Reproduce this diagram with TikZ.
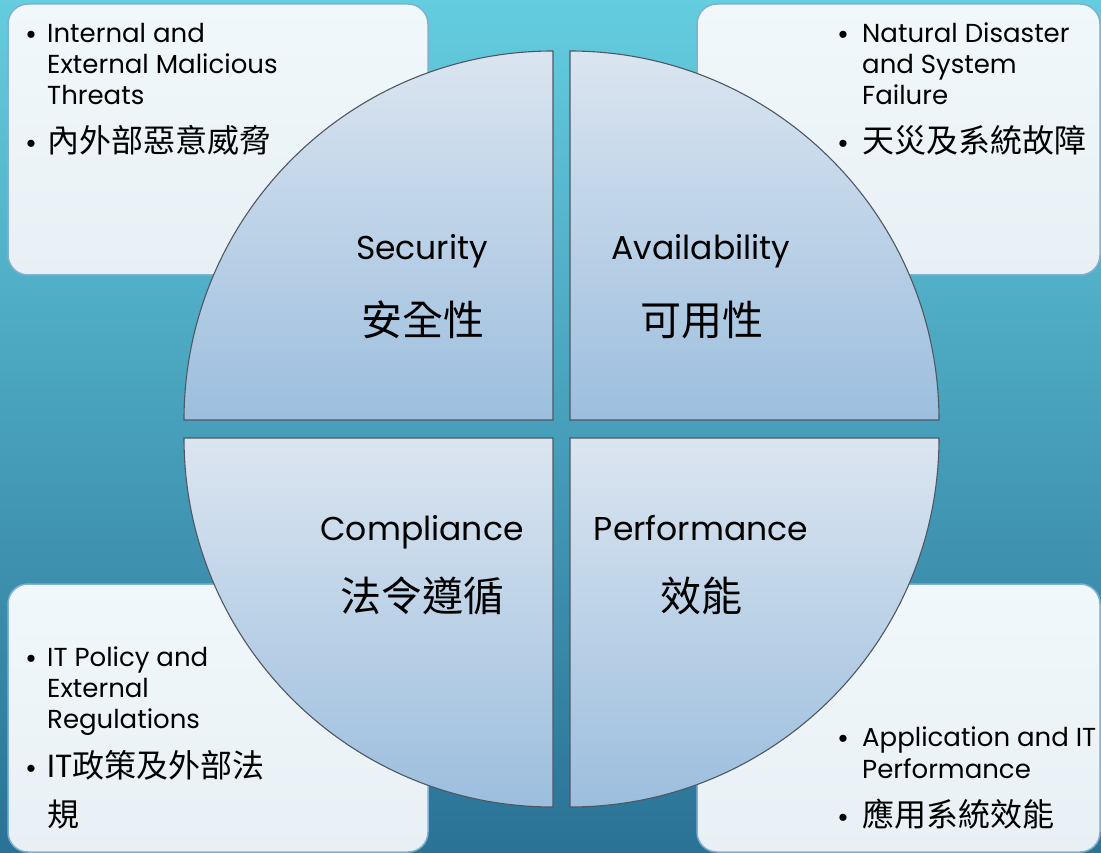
\documentclass[tikz,border=0pt]{standalone}
\usepackage{fontspec}
\setmainfont{Poppins}
\newfontfamily\cjkfont{Noto Sans CJK TC}
\usetikzlibrary{positioning}

\definecolor{bgtop}{RGB}{100,205,223}
\definecolor{bgmid}{RGB}{78,180,204}
\definecolor{bgbot}{RGB}{42,114,150}
\definecolor{boxtop}{RGB}{240,248,251}
\definecolor{boxbot}{RGB}{232,240,245}
\definecolor{boxline}{RGB}{128,176,210}
\definecolor{sectop}{RGB}{219,229,240}
\definecolor{secbot}{RGB}{156,190,222}
\definecolor{secline}{RGB}{78,88,98}

\tikzset{
  notebox/.style={draw=boxline, line width=1.5pt, top color=boxtop, bottom color=boxbot, rounded corners=20pt},
  sector/.style={draw=secline, line width=1.1pt, top color=sectop, bottom color=secbot},
  head/.style={font=\fontsize{33}{40}\selectfont, anchor=base, inner sep=0pt},
  headzh/.style={font=\cjkfont\fontsize{41}{45}\selectfont, anchor=base, inner sep=0pt},
  item/.style={font=\fontsize{26}{31}\selectfont, anchor=base west, inner sep=0pt},
  itemzh/.style={font=\cjkfont\fontsize{32}{49}\selectfont, anchor=base west, inner sep=0pt},
  bullet/.style={font=\fontsize{29}{31}\selectfont, anchor=base, inner sep=0pt},
}

\begin{document}
\begin{tikzpicture}[x=1pt, y=-1pt]
    %% Background
    \useasboundingbox (0,0) rectangle (1101,853);
    \shade[top color=bgtop, middle color=bgmid, bottom color=bgbot] (0,0) rectangle (1101,853);

    %% Corner boxes
    \begin{scope}
    \clip (0,0) rectangle (1101,853);
    \draw[notebox] (8,4) rectangle (428,275);
    \draw[notebox] (697,4) rectangle (1100,275);
    \draw[notebox] (8,584) rectangle (428,852);
    \draw[notebox] (697,584) rectangle (1100,852);
    \end{scope}

    %% Quarter circles
    \draw[sector] (553,420) -- (184,420) arc[start angle=180, end angle=270, radius=369] -- cycle;
    \draw[sector] (570,420) -- (570,51) arc[start angle=270, end angle=360, radius=369] -- cycle;
    \draw[sector] (553,438) -- (553,807) arc[start angle=90, end angle=180, radius=369] -- cycle;
    \draw[sector] (570,438) -- (939,438) arc[start angle=0, end angle=90, radius=369] -- cycle;

    %% Headings
    \node[head] (sec) at (422,260) {Security};
    \node[headzh] (seczh) at (423,335) {安全性};
    \node[head] (ava) at (701,260) {Availability};
    \node[headzh] (avazh) at (702,335) {可用性};
    \node[head] (com) at (422,540) {Compliance};
    \node[headzh] (comzh) at (422,611) {法令遵循};
    \node[head] (per) at (701,540) {Performance};
    \node[headzh] (perzh) at (701,611) {效能};

    %% Notes, top left
    \node[bullet] (tlA) at (31,45) {•};
    \node[item] (tl1) at (47,43) {Internal and};
    \node[item] (tl2) at (47,74) {External Malicious};
    \node[item] (tl3) at (47,105) {Threats};
    \node[bullet] (tlB) at (31,154) {•};
    \node[itemzh] (tl4) at (47,153) {內外部惡意威脅};

    %% Notes, top right
    \node[bullet] (trA) at (843,45) {•};
    \node[item] (tr1) at (862,43) {Natural Disaster};
    \node[item] (tr2) at (862,74) {and System};
    \node[item] (tr3) at (862,105) {Failure};
    \node[bullet] (trB) at (843,154) {•};
    \node[itemzh] (tr4) at (862,153) {天災及系統故障};

    %% Notes, bottom left
    \node[bullet] (blA) at (31,668) {•};
    \node[item] (bl1) at (47,666) {IT Policy and};
    \node[item] (bl2) at (47,697) {External};
    \node[item] (bl3) at (47,728) {Regulations};
    \node[bullet] (blB) at (31,778) {•};
    \node[itemzh] (bl4) at (47,777) {{\rmfamily IT}政策及外部法};
    \node[itemzh] (bl5) at (47,826) {規};

    %% Notes, bottom right
    \node[bullet] (brA) at (843,748) {•};
    \node[item] (br1) at (862,746) {Application and IT};
    \node[item] (br2) at (862,778) {Performance};
    \node[bullet] (brB) at (843,827) {•};
    \node[itemzh] (br3) at (862,826) {應用系統效能};
\end{tikzpicture}
\end{document}
